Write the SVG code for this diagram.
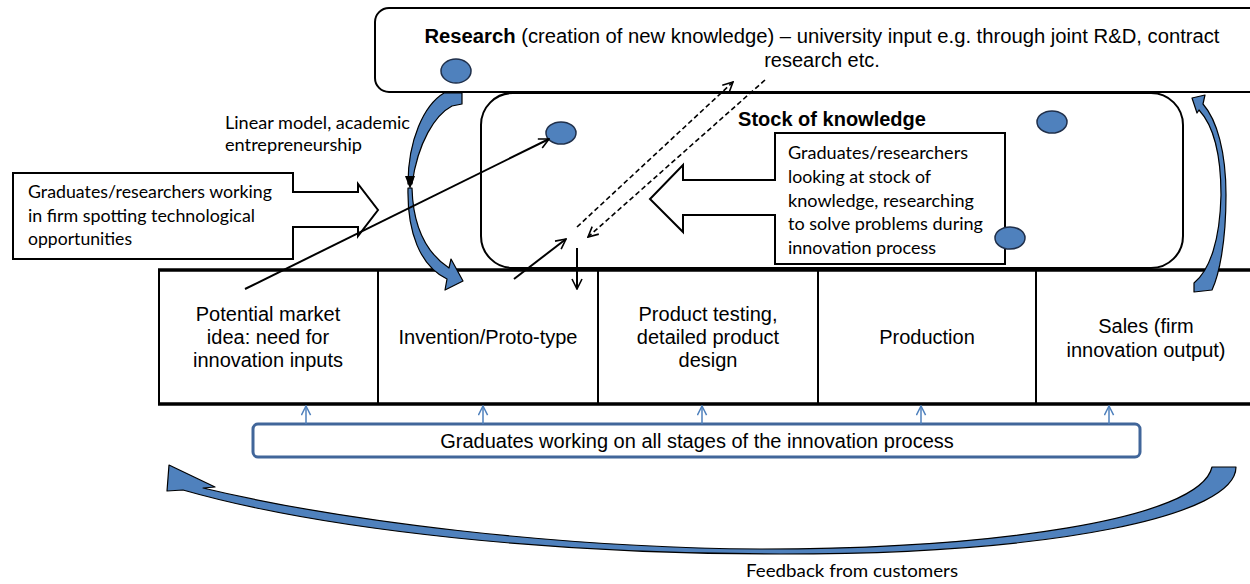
<svg xmlns="http://www.w3.org/2000/svg" width="1250" height="584" viewBox="0 0 1250 584">
<style>
.box{fill:#fff;stroke:#000;stroke-width:2}
.ar{font-family:"Liberation Sans",Arial,sans-serif;font-size:20px;fill:#000}
.cal{font-family:Lato,"Noto Sans",sans-serif;font-size:16.5px;fill:#000}
.dot{fill:#4f81bd;stroke:#1f2f4a;stroke-width:1.5}
.blue{fill:#4f81bd;stroke:#000;stroke-width:1.2;stroke-linejoin:round}
.ln{fill:none;stroke:#000;stroke-width:2}
.dash{fill:none;stroke:#000;stroke-width:1.6;stroke-dasharray:5 3}
.small{fill:none;stroke:#4f81bd;stroke-width:1.5}
</style>
<defs>
<marker id="ah" viewBox="0 0 12 12" refX="11" refY="6" markerWidth="12" markerHeight="12" markerUnits="userSpaceOnUse" orient="auto"><path d="M1,1 L11,6 L1,11" fill="none" stroke="#000" stroke-width="1.6"/></marker>
<marker id="ahb" viewBox="0 0 12 12" refX="11" refY="6" markerWidth="11" markerHeight="11" markerUnits="userSpaceOnUse" orient="auto"><path d="M1,1 L11,6 L1,11" fill="none" stroke="#4f81bd" stroke-width="1.6"/></marker>
</defs>
<rect width="1250" height="584" fill="#fff"/>

<g id="research">
<rect class="box" x="375" y="8" width="900" height="84" rx="14"/>
<text class="ar" x="822" y="43" text-anchor="middle" textLength="795" lengthAdjust="spacingAndGlyphs"><tspan font-weight="bold">Research</tspan> (creation of new knowledge) – university input e.g. through joint R&amp;D, contract</text>
<text class="ar" x="822" y="67" text-anchor="middle">research etc.</text>
<ellipse class="dot" cx="456" cy="71" rx="15" ry="12"/>
</g>

<g id="stock">
<rect class="box" x="481" y="93" width="702" height="175" rx="32"/>
<text class="ar" x="832" y="126" text-anchor="middle" font-weight="bold">Stock of knowledge</text>
<ellipse class="dot" cx="561" cy="133" rx="15" ry="11"/>
<ellipse class="dot" cx="1052" cy="122" rx="15" ry="11"/>
</g>

<g id="process">
<rect x="159" y="270" width="1100" height="134" fill="#fff" stroke="#000" stroke-width="2"/>
<line x1="158" y1="270" x2="1250" y2="270" stroke="#000" stroke-width="3.5"/>
<line x1="158" y1="404" x2="1250" y2="404" stroke="#000" stroke-width="3.5"/>
<line x1="378" y1="270" x2="378" y2="404" stroke="#000" stroke-width="2"/>
<line x1="598" y1="270" x2="598" y2="404" stroke="#000" stroke-width="2"/>
<line x1="818" y1="270" x2="818" y2="404" stroke="#000" stroke-width="2"/>
<line x1="1036" y1="270" x2="1036" y2="404" stroke="#000" stroke-width="2"/>
</g>
<g id="cell-market">
<text class="ar" x="268" y="321" text-anchor="middle">Potential market</text>
<text class="ar" x="268" y="344" text-anchor="middle">idea: need for</text>
<text class="ar" x="268" y="367" text-anchor="middle">innovation inputs</text>
</g>
<g id="cell-invention">
<text class="ar" x="488" y="344" text-anchor="middle">Invention/Proto-type</text>
</g>
<g id="cell-testing">
<text class="ar" x="708" y="321" text-anchor="middle">Product testing,</text>
<text class="ar" x="708" y="344" text-anchor="middle">detailed product</text>
<text class="ar" x="708" y="367" text-anchor="middle">design</text>
</g>
<g id="cell-production">
<text class="ar" x="927" y="344" text-anchor="middle">Production</text>
</g>
<g id="cell-sales">
<text class="ar" x="1146" y="333" text-anchor="middle">Sales (firm</text>
<text class="ar" x="1146" y="357" text-anchor="middle">innovation output)</text>
</g>

<g id="callout-left">
<path class="box" d="M13,173 L293,173 L293,192 L358,192 L358,184 L378,210 L358,236 L358,227 L293,227 L293,259 L13,259 Z"/>
<text class="cal" x="28" y="198" textLength="244" lengthAdjust="spacingAndGlyphs">Graduates/researchers working</text>
<text class="cal" x="28" y="222" textLength="227" lengthAdjust="spacingAndGlyphs">in firm spotting technological</text>
<text class="cal" x="28" y="245" textLength="104" lengthAdjust="spacingAndGlyphs">opportunities</text>
</g>

<g id="callout-right">
<path class="box" d="M775,133 L1005,133 L1005,264 L775,264 L775,215 L683,215 L683,232 L650,199 L683,165 L683,180 L775,180 Z"/>
<text class="cal" x="788" y="159" textLength="180" lengthAdjust="spacingAndGlyphs">Graduates/researchers</text>
<text class="cal" x="788" y="183" textLength="143" lengthAdjust="spacingAndGlyphs">looking at stock of</text>
<text class="cal" x="788" y="207" textLength="186" lengthAdjust="spacingAndGlyphs">knowledge, researching</text>
<text class="cal" x="788" y="230" textLength="195" lengthAdjust="spacingAndGlyphs">to solve problems during</text>
<text class="cal" x="788" y="254" textLength="148" lengthAdjust="spacingAndGlyphs">innovation process</text>
<ellipse class="dot" cx="1010" cy="238" rx="15" ry="11"/>
</g>

<g id="label-linear">
<text class="cal" x="225" y="129" textLength="185" lengthAdjust="spacingAndGlyphs">Linear model, academic</text>
<text class="cal" x="225" y="151" textLength="137" lengthAdjust="spacingAndGlyphs">entrepreneurship</text>
</g>

<g id="graduates">
<rect x="253" y="424" width="887" height="33" rx="5" fill="#fff" stroke="#41669a" stroke-width="3"/>
<text class="ar" x="697" y="448" text-anchor="middle">Graduates working on all stages of the innovation process</text>
</g>

<g id="label-feedback">
<text class="cal" x="746" y="577" textLength="212" lengthAdjust="spacingAndGlyphs">Feedback from customers</text>
</g>

<g id="connectors">
<path class="blue" d="M444,93 L462,93 L462,104 L452,106 C435,115 418,142 412,184 L408,184 C408,140 424,105 444,93 Z"/>
<path class="blue" d="M408,188 L412,188 C413,225 425,252 449,268 L451,259 L463,281 L445,290 L447,279 C420,266 407,232 408,188 Z"/>
<polygon points="405,176 415,176 410,189" fill="#000"/>
<path class="blue" d="M1194,283 C1210,270 1220,240 1221,195 C1221,152 1212,124 1199,110 L1197,113 L1192,98 L1205,95 L1203,104 C1217,120 1226,152 1226,195 C1226,243 1219,275 1212,290 L1194,292 Z"/>
<path class="blue" d="M1212,467 L1236,467 C1236,515 1060,554 780,554 C560,554 330,532 183,490 L167,491 L169,465 L215,487 L203,488 C340,521 560,548 760,549 C990,549 1200,520 1212,467 Z"/>
<line class="ln" x1="245" y1="289" x2="549" y2="139" marker-end="url(#ah)"/>
<line class="ln" x1="514" y1="279" x2="566" y2="239" marker-end="url(#ah)"/>
<line class="ln" x1="577" y1="248" x2="577" y2="289" marker-end="url(#ah)"/>
<line class="dash" x1="577" y1="227" x2="733" y2="82" marker-end="url(#ah)"/>
<line class="dash" x1="765" y1="80" x2="588" y2="237" marker-end="url(#ah)"/>
<line class="small" x1="306" y1="424" x2="306" y2="406" marker-end="url(#ahb)"/>
<line class="small" x1="483" y1="424" x2="483" y2="406" marker-end="url(#ahb)"/>
<line class="small" x1="702" y1="424" x2="702" y2="406" marker-end="url(#ahb)"/>
<line class="small" x1="921" y1="424" x2="921" y2="406" marker-end="url(#ahb)"/>
<line class="small" x1="1109" y1="424" x2="1109" y2="406" marker-end="url(#ahb)"/>
</g>
</svg>
